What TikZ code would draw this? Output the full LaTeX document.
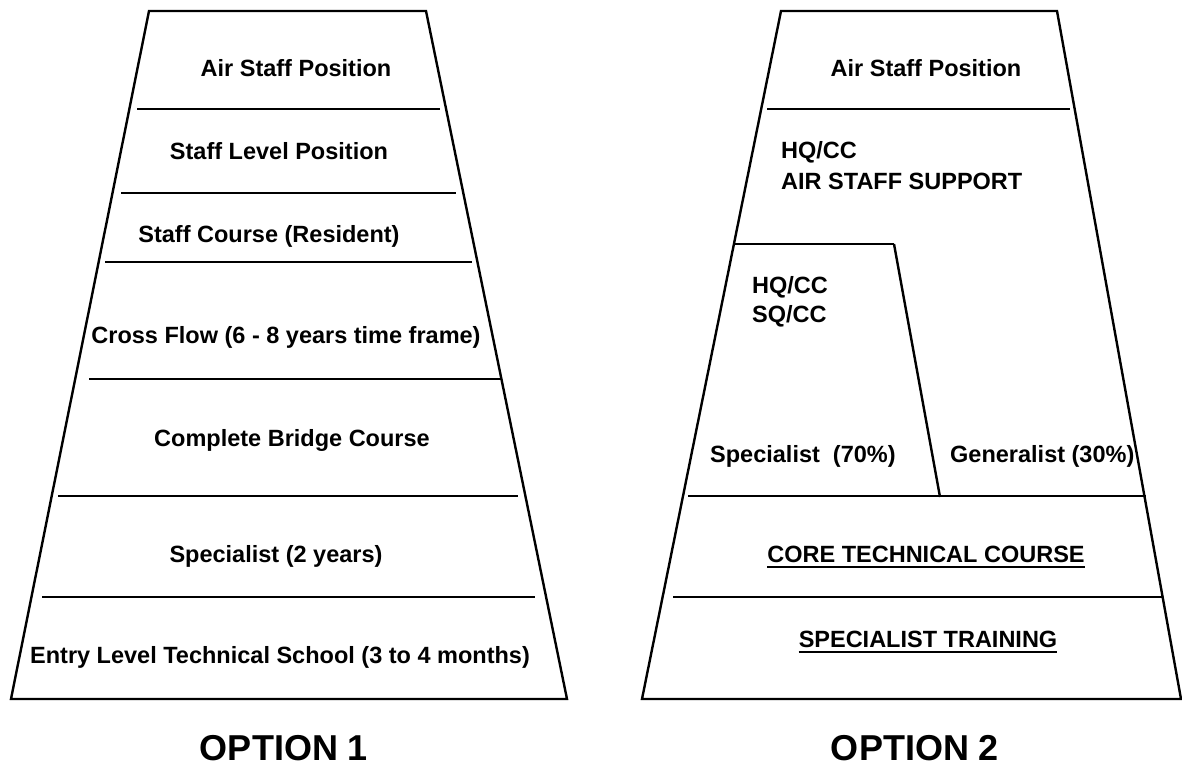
\documentclass[tikz,border=0pt]{standalone}
\usepackage{fontspec}
\setmainfont{Liberation Sans}
\begin{document}
\begin{tikzpicture}[x=1pt,y=-1pt]
\tikzset{
  outline/.style={line width=2.4pt, line join=miter},
  sepline/.style={line width=2.8pt},
  uline/.style={line width=2pt},
  lbl/.style={font=\bfseries\fontsize{23.5}{28}\selectfont, inner sep=0pt, anchor=base},
  lbll/.style={lbl, anchor=base west},
  big/.style={font=\bfseries\fontsize{36}{40}\selectfont, inner sep=0pt, anchor=base}
}
\useasboundingbox (0,0) rectangle (1182,767);
% ---------- Option 1 ----------
\coordinate (a1) at (149,11);
\coordinate (a2) at (426,11);
\coordinate (a3) at (567,699);
\coordinate (a4) at (11,699);
\draw[outline] (a1) -- (a2) -- (a3) -- (a4) -- cycle;
\draw[sepline] (137,109) -- (440,109);
\draw[sepline] (121,193) -- (456,193);
\draw[sepline] (105,262) -- (472,262);
\draw[sepline] (89,379) -- (502,379);
\draw[sepline] (58,496) -- (518,496);
\draw[sepline] (42,597) -- (535,597);
\node[lbl] (l1) at (296,77) {Air Staff Position};
\node[lbl] (l2) at (279,160) {Staff Level Position};
\node[lbl] (l3) at (269,243) {Staff Course (Resident)};
\node[lbl] (l4) at (286,343) {Cross Flow (6 - 8 years time frame)};
\node[lbl] (l5) at (292,446) {Complete Bridge Course};
\node[lbl] (l6) at (276,562) {Specialist (2 years)};
\node[lbl] (l7) at (280,663) {Entry Level Technical School (3 to 4 months)};
\node[big] (o1) at (284,760) {OPTION 1};
% ---------- Option 2 ----------
\coordinate (b1) at (781,11);
\coordinate (b2) at (1057,11);
\coordinate (b3) at (1181,699);
\coordinate (b4) at (642,699);
\draw[outline] (b1) -- (b2) -- (b3) -- (b4) -- cycle;
\draw[sepline] (767,109) -- (1070,109);
\coordinate (i1) at (735,244);
\coordinate (i2) at (894,244);
\coordinate (i3) at (940,497);
\draw[sepline] (i1) -- (i2);
\draw[outline] (i2) -- (i3);
\draw[sepline] (688,496) -- (1146,496);
\draw[sepline] (673,597) -- (1163,597);
\node[lbl] (r1) at (926,77) {Air Staff Position};
\node[lbll] (r2) at (781,159) {HQ/CC};
\node[lbll] (r3) at (781,190) {AIR STAFF SUPPORT};
\node[lbll] (r4) at (752,293) {HQ/CC};
\node[lbll] (r5) at (752,322) {SQ/CC};
\node[lbll] (r6) at (710,462) {Specialist\ \ (70\%)};
\node[lbll] (r7) at (950,462) {Generalist (30\%)};
\node[lbl] (r8) at (926,562) {CORE TECHNICAL COURSE};
\draw[uline] ([yshift=-5pt]r8.base west) -- ([yshift=-5pt]r8.base east);
\node[lbl] (r9) at (928,647) {SPECIALIST TRAINING};
\draw[uline] ([yshift=-5pt]r9.base west) -- ([yshift=-5pt]r9.base east);
\node[big] (o2) at (915,760) {OPTION 2};
\end{tikzpicture}
\end{document}
